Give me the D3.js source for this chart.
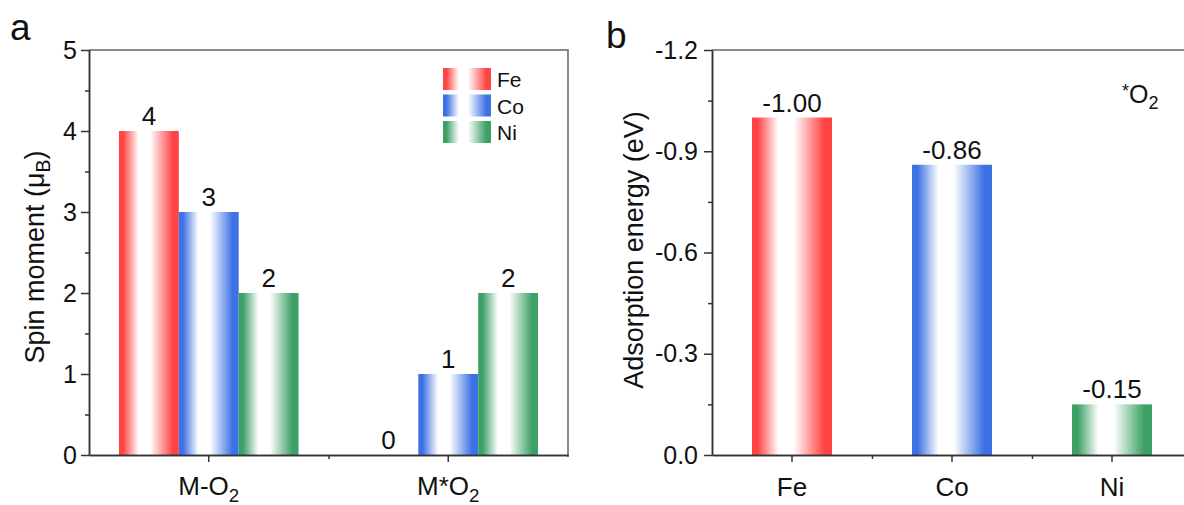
<!DOCTYPE html>
<html><head><meta charset="utf-8">
<script src="https://cdn.jsdelivr.net/npm/d3@7"></script>
<style>body{margin:0;background:#fff}text{font-family:"Liberation Sans",Arial,sans-serif;fill:#111}</style>
</head><body><svg id="c" width="1184" height="505"></svg>
<script>
// ---- data ----
const groupsA = ["M-O2", "M*O2"];
const seriesA = ["Fe", "Co", "Ni"];
const fe = [4, 0];
const co = [3, 1];
const ni = [2, 2];
const yTicksA = [0, 1, 2, 3, 4, 5];
const catsB = ["Fe", "Co", "Ni"];
const energyB = [-1.00, -0.86, -0.15];
const yTicksB = [0, -0.3, -0.6, -0.9, -1.2];
const colors = {Fe: "#ff4444", Co: "#3d72e4", Ni: "#3da065"};

const TICK_FS = 25, LBL_FS = 26, TITLE_FS = 27;

const svg = d3.select("#c");
const defs = svg.append("defs");
Object.entries(colors).forEach(([k, c]) => {
  const g = defs.append("linearGradient").attr("id", "g" + k).attr("x1", 0).attr("x2", 1).attr("y1", 0).attr("y2", 0);
  [[0, c], [0.07, c], [0.33, "#fff"], [0.52, "#fff"], [0.9, c], [1, c]].forEach(s =>
    g.append("stop").attr("offset", s[0]).attr("stop-color", s[1]));
});

function subLabel(sel, txt) {
  const parts = txt.split("2");
  sel.text(null);
  sel.append("tspan").text(parts[0]);
  sel.append("tspan").attr("dy", 7).attr("font-size", "0.72em").text("2");
}

// ---------------- Panel a ----------------
const A = {l: 89, r: 568, t: 50, b: 455};
const x0 = d3.scaleBand().domain(groupsA).range([A.l, A.r]);
const x1 = d3.scaleBand().domain(seriesA).range([0, x0.bandwidth()]).paddingOuter(0.5);
const yA = d3.scaleLinear().domain([0, 5]).range([A.b, A.t]);
const gA = svg.append("g");
const dataA = {Fe: fe, Co: co, Ni: ni};

groupsA.forEach((grp, gi) => {
  seriesA.forEach(s => {
    const v = dataA[s][gi];
    const x = x0(grp) + x1(s);
    gA.append("rect").attr("x", x).attr("y", yA(v)).attr("width", x1.bandwidth())
      .attr("height", yA(0) - yA(v)).attr("fill", `url(#g${s})`);
    gA.append("text").attr("x", x + x1.bandwidth() / 2).attr("y", yA(v) - 6)
      .attr("text-anchor", "middle").attr("font-size", LBL_FS).text(v);
  });
});

gA.append("path").attr("d", `M${A.l},${A.t}H${A.r}V${A.b + 2}`).attr("fill", "none").attr("stroke", "#666").attr("stroke-width", 1.5);
gA.append("g").attr("class", "ax").attr("transform", `translate(${A.l},0)`)
  .call(d3.axisLeft(yA).tickValues(yTicksA).tickSize(8).tickSizeOuter(0).tickPadding(4).tickFormat(d3.format("d")));
gA.append("g").attr("class", "ax").attr("transform", `translate(${A.l},0)`)
  .call(d3.axisLeft(yA).tickValues(d3.range(0.5, 5, 1)).tickSize(4).tickSizeOuter(0).tickFormat(""));
const axBA = gA.append("g").attr("class", "ax").attr("transform", `translate(0,${A.b})`)
  .call(d3.axisBottom(x0).tickSize(7).tickSizeOuter(0).tickPadding(15));
gA.append("g").attr("class", "ax").attr("transform", `translate(0,${A.b})`)
  .call(d3.axisBottom(d3.scaleLinear().domain([0, 2]).range([A.l, A.r])).tickValues([1]).tickSize(4).tickSizeOuter(0).tickFormat(""));

gA.append("text").attr("transform", `translate(44,257) rotate(-90)`).attr("text-anchor", "middle")
  .attr("font-size", TITLE_FS).call(t => {
    t.append("tspan").text("Spin moment (\u03BC");
    t.append("tspan").attr("dy", 6).attr("font-size", "0.72em").text("B");
    t.append("tspan").attr("dy", -6).text(")");
  });
gA.append("text").attr("x", 10).attr("y", 40).attr("font-size", 37).text("a");

const leg = gA.append("g");
seriesA.forEach((s, i) => {
  const y = 68 + i * 26.5;
  leg.append("rect").attr("x", 443).attr("y", y).attr("width", 48).attr("height", 22).attr("fill", `url(#g${s})`);
  leg.append("text").attr("x", 497).attr("y", y + 19).attr("font-size", 21).text(s);
});

// ---------------- Panel b ----------------
const B = {l: 712, r: 1192, t: 50, b: 455};
const xB = d3.scaleBand().domain(catsB).range([B.l, B.r]).paddingInner(0.5).paddingOuter(0.25);
const yB = d3.scaleLinear().domain([0, -1.2]).range([B.b, B.t]);
const gB = svg.append("g");
catsB.forEach((c, i) => {
  const v = energyB[i];
  gB.append("rect").attr("x", xB(c)).attr("y", yB(v)).attr("width", xB.bandwidth())
    .attr("height", yB(0) - yB(v)).attr("fill", `url(#g${c})`);
  gB.append("text").attr("x", xB(c) + xB.bandwidth() / 2).attr("y", yB(v) - 6)
    .attr("text-anchor", "middle").attr("font-size", LBL_FS).text(v.toFixed(2));
});
gB.append("path").attr("d", `M${B.l},${B.t}H${B.r}`).attr("fill", "none").attr("stroke", "#666").attr("stroke-width", 1.5);
gB.append("g").attr("class", "ax").attr("transform", `translate(${B.l},0)`)
  .call(d3.axisLeft(yB).tickValues(yTicksB).tickSize(8).tickSizeOuter(0).tickPadding(6).tickFormat(v => Math.abs(v) < 1e-9 ? "0.0" : v.toFixed(1)));
gB.append("g").attr("class", "ax").attr("transform", `translate(${B.l},0)`)
  .call(d3.axisLeft(yB).tickValues([-0.15, -0.45, -0.75, -1.05]).tickSize(4).tickSizeOuter(0).tickFormat(""));
gB.append("g").attr("class", "ax").attr("transform", `translate(0,${B.b})`)
  .call(d3.axisBottom(xB).tickSize(7).tickSizeOuter(0).tickPadding(16));
gB.append("g").attr("class", "ax").attr("transform", `translate(0,${B.b})`)
  .call(d3.axisBottom(d3.scaleLinear().domain([0, 3]).range([B.l, B.r])).tickValues([1, 2]).tickSize(4).tickSizeOuter(0).tickFormat(""));
gB.append("text").attr("transform", `translate(643,250) rotate(-90)`).attr("text-anchor", "middle")
  .attr("font-size", TITLE_FS).text("Adsorption energy (eV)");
gB.append("text").attr("x", 606).attr("y", 48).attr("font-size", 37).text("b");
gB.append("text").attr("x", 1122).attr("y", 103).attr("font-size", 25).call(t => {
  t.append("tspan").attr("font-size", "0.72em").attr("dy", -6).text("*");
  t.append("tspan").attr("dy", 6).text("O");
  t.append("tspan").attr("dy", 6).attr("font-size", "0.72em").text("2");
});

svg.selectAll(".ax .domain").attr("stroke", "#333").attr("stroke-width", 1.5);
svg.selectAll(".ax .tick line").attr("stroke", "#333").attr("stroke-width", 1.5);
svg.selectAll(".ax .tick text").attr("font-size", TICK_FS).attr("fill", "#111").attr("font-family", "Liberation Sans, Arial, sans-serif");
axBA.selectAll(".tick text").attr("font-size", LBL_FS).each(function(d) { subLabel(d3.select(this), d); });
gB.selectAll(".ax .tick text").filter(d => typeof d === "string").attr("font-size", LBL_FS);
</script></body></html>
